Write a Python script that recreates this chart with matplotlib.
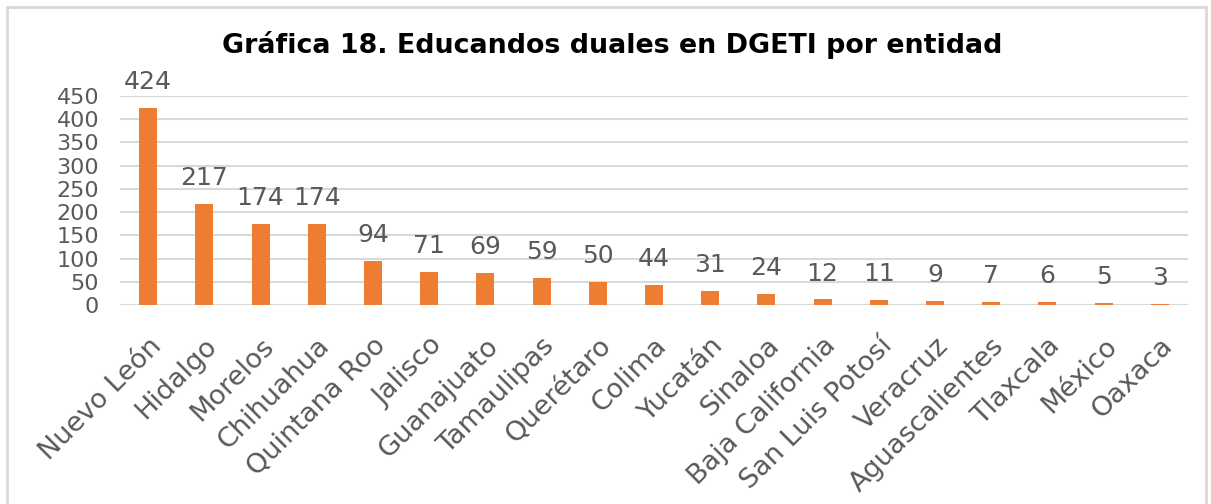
import matplotlib
matplotlib.use('Agg')
import matplotlib.pyplot as plt
import matplotlib.transforms as mtransforms
from matplotlib.patches import Rectangle

# datos
entidades = ['Nuevo León', 'Hidalgo', 'Morelos', 'Chihuahua', 'Quintana Roo',
             'Jalisco', 'Guanajuato', 'Tamaulipas', 'Querétaro', 'Colima',
             'Yucatán', 'Sinaloa', 'Baja California', 'San Luis Potosí',
             'Veracruz', 'Aguascalientes', 'Tlaxcala', 'México', 'Oaxaca']
educandos = [424, 217, 174, 174, 94, 71, 69, 59, 50, 44, 31, 24, 12, 11,
             9, 7, 6, 5, 3]
y_ticks = [0, 50, 100, 150, 200, 250, 300, 350, 400, 450]
titulo = 'Gráfica 18. Educandos duales en DGETI por entidad'


def main() -> None:
    plt.rcParams['font.family'] = ['DejaVu Sans']
    gris = '#595959'
    fig = plt.figure(figsize=(12.11, 5.04), dpi=100)
    fig.patches.append(Rectangle((7 / 1211, -0.02), 1199 / 1211, 0.02 + 497 / 504,
                                 transform=fig.transFigure, fill=False,
                                 edgecolor='#d9d9d9', linewidth=2))
    ax = fig.add_axes([120 / 1211, 1 - 305 / 504, 1068 / 1211, 209 / 504])
    x = range(len(entidades))
    bars = ax.bar(x, educandos, width=0.32, color='#ED7D31', zorder=3)
    for b, v in zip(bars, educandos):
        ax.annotate(str(v), (b.get_x() + b.get_width() / 2, v),
                    xytext=(0, 10), textcoords='offset points',
                    ha='center', va='bottom', fontsize=18, color=gris)
    ax.set_xlim(-0.5, len(entidades) - 0.5)
    ax.set_ylim(0, 450)
    ax.set_yticks(y_ticks)
    ax.set_xticks(list(x))
    ax.set_xticklabels(entidades, rotation=45, ha='right',
                       rotation_mode='anchor', fontsize=19.5, color=gris)
    desplaza = mtransforms.ScaledTranslation(8 / 100, 0, fig.dpi_scale_trans)
    for lbl in ax.get_xticklabels():
        lbl.set_transform(lbl.get_transform() + desplaza)
    ax.tick_params(axis='y', labelsize=16, labelcolor=gris, length=0, pad=15)
    ax.tick_params(axis='x', length=0, pad=20)
    ax.grid(axis='y', color='#d9d9d9', linewidth=1.5, zorder=0)
    for s in ax.spines.values():
        s.set_visible(False)
    fig.text(612 / 1211, 1 - 45 / 504, titulo, ha='center', va='center',
             fontsize=19.4, fontweight='bold', color='black')
    fig.savefig('out.png', dpi=100)


if __name__ == "__main__":
    main()
